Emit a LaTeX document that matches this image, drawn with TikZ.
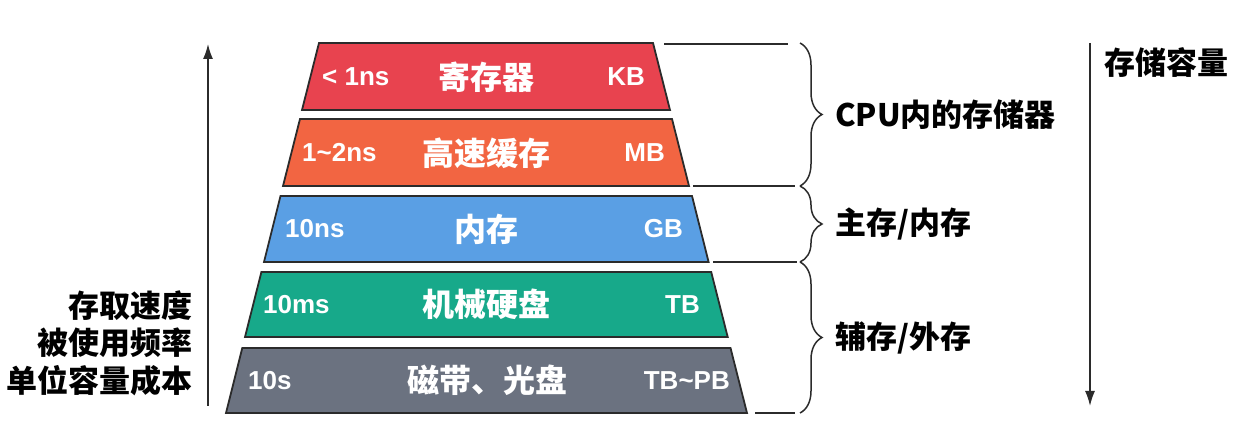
\documentclass[tikz,border=0pt]{standalone}
\usepackage{fontspec}
\setmainfont{Noto Sans CJK SC}
\newfontfamily\latinfont{Liberation Sans}
\usetikzlibrary{decorations.pathreplacing,arrows.meta}
\definecolor{cred}{HTML}{E8434F}
\definecolor{corange}{HTML}{F26542}
\definecolor{cblue}{HTML}{5A9FE4}
\definecolor{cgreen}{HTML}{17A98A}
\definecolor{cgray}{HTML}{6B7280}
\definecolor{cline}{HTML}{2B2B2B}
\begin{document}
\begin{tikzpicture}[x=1pt,y=-1pt,
  layer/.style={draw=cline,line width=1.8pt,line join=miter},
  side/.style={text=white,inner sep=0pt,font=\latinfont\fontsize{26}{30}\selectfont\bfseries},
  mid/.style={text=white,inner sep=0pt,font=\fontsize{32}{36}\selectfont\bfseries},
  lab/.style={text=black,inner sep=0pt,font=\fontsize{31}{37.5}\selectfont\bfseries},
  guide/.style={draw=cline,line width=1.5pt},
  br/.style={draw=cline,line width=1.5pt,decorate,decoration={brace,amplitude=22pt}},
  axis/.style={draw=cline,line width=1.5pt,-{Latex[length=15pt,width=10pt]}}]
\useasboundingbox (0,0) rectangle (1237,443);
% layers
\path[layer,fill=cred]    (319,43) -- (653,43) -- (670,110) -- (302,110) -- cycle;
\path[layer,fill=corange] (300,119) -- (672,119) -- (689,186) -- (283,186) -- cycle;
\path[layer,fill=cblue]   (280.5,196) -- (692,196) -- (708.6,262) -- (264,262) -- cycle;
\path[layer,fill=cgreen]  (261.4,272) -- (711.2,272) -- (727.7,337) -- (245,337) -- cycle;
\path[layer,fill=cgray]   (242.3,348) -- (730.5,348) -- (747,413) -- (226,413) -- cycle;
% layer texts
\node[side,anchor=west] (s1) at (322,77) {< 1ns};
\node[mid] (m1) at (486,77) {寄存器};
\node[side,anchor=east] (r1) at (645,77) {KB};
\node[side,anchor=west] (s2) at (302,153) {1\textasciitilde 2ns};
\node[mid] (m2) at (486,153) {高速缓存};
\node[side,anchor=east] (r2) at (665,153) {MB};
\node[side,anchor=west] (s3) at (285,229) {10ns};
\node[mid] (m3) at (486,229) {内存};
\node[side,anchor=east] (r3) at (683,229) {GB};
\node[side,anchor=west] (s4) at (263,304.5) {10ms};
\node[mid] (m4) at (486,304.5) {机械硬盘};
\node[side,anchor=east] (r4) at (700,304.5) {TB};
\node[side,anchor=west] (s5) at (248,380.5) {10s};
\node[mid] (m5) at (487,380.5) {磁带、光盘};
\node[side,anchor=east] (r5) at (730,380.5) {TB\textasciitilde PB};
% guide lines
\coordinate (g1a) at (664,44);  \coordinate (g1b) at (788,44);
\coordinate (g2a) at (693,186); \coordinate (g2b) at (795,186);
\coordinate (g3a) at (713,262); \coordinate (g3b) at (797,262);
\coordinate (g4a) at (755,413); \coordinate (g4b) at (795,413);
\draw[guide] (g1a) -- (g1b);
\draw[guide] (g2a) -- (g2b);
\draw[guide] (g3a) -- (g3b);
\draw[guide] (g4a) -- (g4b);
% braces
\coordinate (b1a) at (800,43);  \coordinate (b1b) at (800,186);
\coordinate (b2a) at (800,186); \coordinate (b2b) at (800,262);
\coordinate (b3a) at (800,262); \coordinate (b3b) at (800,413);
\draw[br] (b1a) -- (b1b);
\draw[br] (b2a) -- (b2b);
\draw[br] (b3a) -- (b3b);
\node[lab,anchor=west] (cpu) at (835,115) {CPU内的存储器};
\node[lab,anchor=west] (main) at (835,224) {主存/内存};
\node[lab,anchor=west] (aux) at (835,338) {辅存/外存};
% axes
\coordinate (la) at (208,406); \coordinate (lb) at (208,44);
\draw[axis] (la) -- (lb);
\node[lab,anchor=east,align=right] (left) at (193,343) {存取速度\\被使用频率\\单位容量成本};
\coordinate (ra) at (1090,43); \coordinate (rb) at (1090,406);
\draw[axis] (ra) -- (rb);
\node[lab,anchor=west] (cap) at (1104,63) {存储容量};
\end{tikzpicture}
\end{document}
